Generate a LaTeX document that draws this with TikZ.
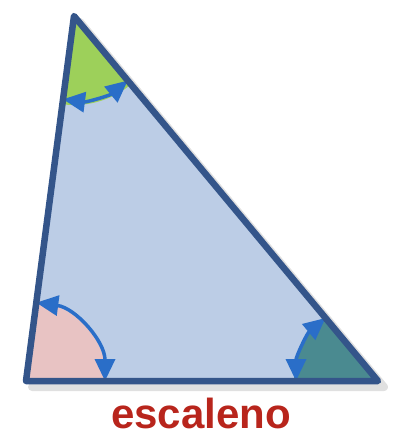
\documentclass[tikz,border=0pt]{standalone}
\usepackage{fontspec}
\setmainfont{Liberation Sans}
\usetikzlibrary{angles,arrows.meta}
\definecolor{edgeblue}{HTML}{34558A}
\definecolor{faceblue}{HTML}{BCCDE6}
\definecolor{arrblue}{HTML}{2A6EC8}
\definecolor{angA}{HTML}{9DD05A}
\definecolor{angB}{HTML}{E8C3C3}
\definecolor{angC}{HTML}{4A8A90}
\definecolor{txtred}{HTML}{B8251C}
\begin{document}
\begin{tikzpicture}[x=1pt, y=-1pt, line join=round, line cap=round,
  arc/.style={draw=arrblue, line width=3.5pt, {Triangle[length=22pt,width=20pt]}-{Triangle[length=22pt,width=20pt]}, arrblue}]
	\useasboundingbox (0,0) rectangle (406,440);
	\coordinate (A) at (74,16);
	\coordinate (B) at (26,381);
	\coordinate (C) at (378,381);
	% shadow and face
	\draw[black!12, line width=8pt] ([shift={(6,6)}]A) -- ([shift={(6,6)}]C) -- ([shift={(6,6)}]B);
	\fill[faceblue] (A) -- (B) -- (C) -- cycle;
	% angle sectors
	\pic[fill=angA, angle radius=89pt] {angle=B--A--C};
	\pic[fill=angB, angle radius=81pt] {angle=C--B--A};
	\pic[fill=angC, angle radius=84pt] {angle=A--C--B};
	\pic[arc, angle radius=84pt] {angle=B--A--C};
	\pic[arc, angle radius=79pt] {angle=C--B--A};
	\pic[arc, angle radius=82pt] {angle=A--C--B};
	\draw[edgeblue, line width=6.5pt] (A) -- (B) -- (C) -- cycle;
	\node[text=txtred, font=\bfseries\fontsize{42}{42}\selectfont, anchor=base] (lbl) at (201,428) {escaleno};
\end{tikzpicture}
\end{document}
